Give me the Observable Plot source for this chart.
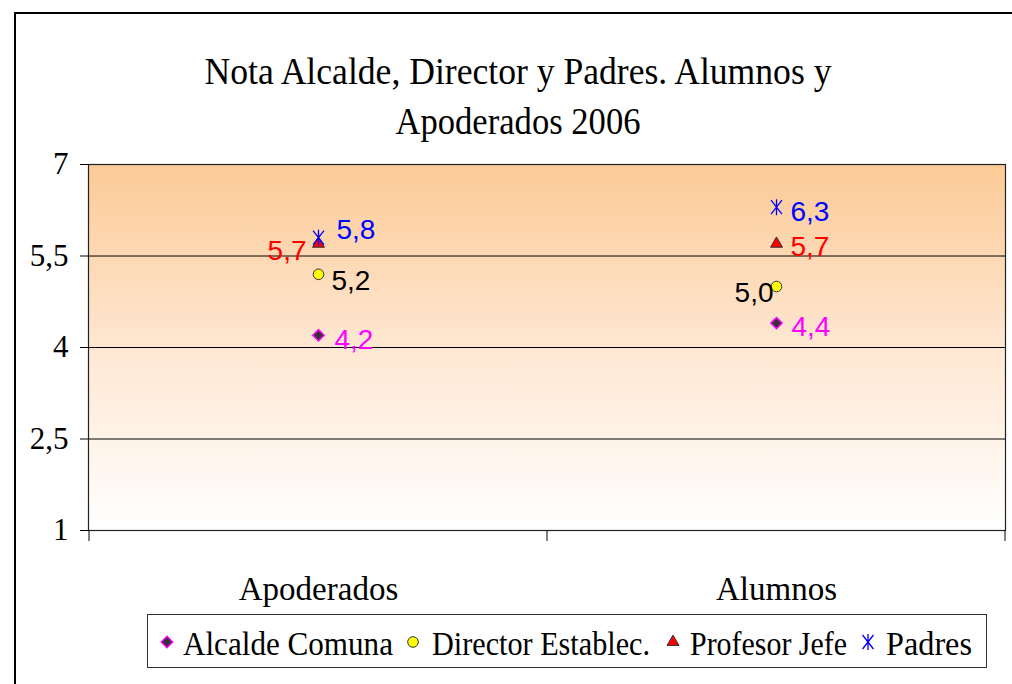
<!DOCTYPE html>
<html>
<head>
<meta charset="utf-8">
<script src="https://cdn.jsdelivr.net/npm/d3@7"></script>
<script src="https://cdn.jsdelivr.net/npm/@observablehq/plot@0.6"></script>
<style>
html, body { margin: 0; padding: 0; background: #fff; overflow: hidden; }
#wrap { position: relative; width: 1012px; height: 684px; overflow: hidden; background: #fff; }
#frame { position: absolute; left: 14px; top: 12px; width: 1100px; height: 800px; border: 2px solid #000; box-sizing: border-box; }
#chart { position: absolute; left: 0; top: 0; }
#overlay { position: absolute; left: 0; top: 0; pointer-events: none; }
</style>
</head>
<body>
<div id="wrap">
  <div id="frame"></div>
  <div id="chart"></div>
  <svg id="overlay" width="1012" height="684"></svg>
</div>
<script>
// ---- data ----
const titleLines = ["Nota Alcalde, Director y Padres. Alumnos y", "Apoderados 2006"];
const categories = ["Apoderados", "Alumnos"];
const seriesNames = ["Alcalde Comuna", "Director Establec.", "Profesor Jefe", "Padres"];
const alcaldeValues = [4.2, 4.4];
const directorValues = [5.2, 5.0];
const profesorValues = [5.7, 5.7];
const padresValues = [5.8, 6.3];
const yTicks = [1, 2.5, 4, 5.5, 7];

// ---- styling (not data) ----
const asteriskSymbol = {
  draw(ctx, size) {
    const r = Math.sqrt(size / Math.PI);
    ctx.moveTo(0, -r * 1.15); ctx.lineTo(0, r * 1.15);
    ctx.moveTo(-r * 0.78, -r); ctx.lineTo(r * 0.78, r);
    ctx.moveTo(r * 0.78, -r); ctx.lineTo(-r * 0.78, r);
  }
};
const seriesStyle = {
  "Alcalde Comuna": { symbol: d3.symbolDiamond2, fill: "#333333", stroke: "#FF00FF", strokeWidth: 1.5, r: 5.1, label: "#FF00FF" },
  "Director Establec.": { symbol: d3.symbolCircle, fill: "#FFFF00", stroke: "#333333", strokeWidth: 1, r: 5.3, label: "#000000" },
  "Profesor Jefe": { symbol: d3.symbolTriangle2, fill: "#FF0000", stroke: "#333333", strokeWidth: 1, r: 5.7, label: "#FF0000" },
  "Padres": { symbol: asteriskSymbol, fill: "none", stroke: "#0000FF", strokeWidth: 1.3, r: 7, label: "#0000FF" }
};
// label placement per series, per category (same order as categories)
const labelPlacement = {
  "Alcalde Comuna": [{ dx: 16, dy: 5, anchor: "start" }, { dx: 15, dy: 4, anchor: "start" }],
  "Director Establec.": [{ dx: 13, dy: 7, anchor: "start" }, { dx: -3, dy: 7, anchor: "end" }],
  "Profesor Jefe": [{ dx: -12, dy: 7, anchor: "end" }, { dx: 14, dy: 3, anchor: "start" }],
  "Padres": [{ dx: 18, dy: -8, anchor: "start" }, { dx: 14, dy: 5, anchor: "start" }]
};

const seriesValues = [alcaldeValues, directorValues, profesorValues, padresValues];
const rows = seriesNames.flatMap((s, i) => categories.map((c, j) => ({ series: s, category: c, value: seriesValues[i][j], j })));
const fmt = v => v.toFixed(1).replace(".", ",");
const tickFmt = v => String(v).replace(".", ",");

const gradientDefs = () => {
  const defs = d3.create("svg:defs");
  const g = defs.append("linearGradient").attr("id", "bgGrad").attr("x1", 0).attr("y1", 0).attr("x2", 0).attr("y2", 1);
  g.append("stop").attr("offset", "0%").attr("stop-color", "#FCCA96");
  g.append("stop").attr("offset", "50%").attr("stop-color", "#FEE7D2");
  g.append("stop").attr("offset", "100%").attr("stop-color", "#FFFFFF");
  return defs.node();
};

const xBoundaryTicks = (index, scales, values, dims) => {
  const x = scales.x;
  const bw = x.bandwidth ? x.bandwidth() : (dims.width - dims.marginLeft - dims.marginRight) / categories.length;
  const xs = categories.map(c => x(c));
  xs.push(x(categories[categories.length - 1]) + bw);
  const y0 = dims.height - dims.marginBottom;
  const g = d3.create("svg:g");
  xs.forEach(v => g.append("line").attr("x1", v).attr("x2", v).attr("y1", y0).attr("y2", y0 + 11).attr("stroke", "#000"));
  return g.node();
};

const marks = [
  gradientDefs,
  Plot.frame({ fill: "url(#bgGrad)", stroke: null }),
  Plot.ruleY(yTicks.slice(1, -1), { stroke: "#000", strokeWidth: 1 }),
  Plot.frame({ stroke: "#222", strokeWidth: 1.2 }),
  Plot.axisY({ ticks: yTicks, tickFormat: tickFmt, tickSize: 8, tickPadding: 12, fontSize: 31, fontFamily: "Liberation Serif", stroke: "#000", fill: "#000", label: null }),
  Plot.axisX({ tickSize: 0, tickPadding: 46, fontSize: 33, fontFamily: "Liberation Serif", fill: "#000", label: null }),
  xBoundaryTicks
];
for (const s of seriesNames) {
  const st = seriesStyle[s];
  marks.push(Plot.dot(rows.filter(d => d.series === s), {
    x: "category", y: "value", symbol: st.symbol, r: st.r, fill: st.fill, stroke: st.stroke, strokeWidth: st.strokeWidth
  }));
}
for (const r of rows) {
  const p = labelPlacement[r.series][r.j];
  marks.push(Plot.text([r], {
    x: "category", y: "value", text: d => fmt(d.value), dx: p.dx, dy: p.dy, textAnchor: p.anchor,
    fill: seriesStyle[r.series].label, fontSize: 28, fontFamily: "Liberation Sans"
  }));
}

const chart = Plot.plot({
  width: 1012, height: 610,
  marginTop: 164, marginBottom: 80, marginLeft: 88, marginRight: 7,
  style: { background: "transparent", overflow: "visible" },
  x: { type: "band", domain: categories, padding: 0 },
  y: { domain: [1, 7] },
  marks
});
document.getElementById("chart").appendChild(chart);

// ---- title and legend (overlay) ----
const ov = d3.select("#overlay");
const titleLayout = [{ y: 84, len: 627 }, { y: 134, len: 245 }];
titleLines.forEach((t, i) => {
  ov.append("text").attr("x", 518).attr("y", titleLayout[i].y).attr("text-anchor", "middle")
    .attr("font-family", "Liberation Serif").attr("font-size", 38)
    .attr("textLength", titleLayout[i].len).attr("lengthAdjust", "spacingAndGlyphs")
    .attr("fill", "#000").text(t);
});
ov.append("rect").attr("x", 147.5).attr("y", 614.5).attr("width", 839).attr("height", 53)
  .attr("fill", "#fff").attr("stroke", "#333").attr("stroke-width", 1);
const legendLayout = [
  { mx: 167, tx: 183, len: 210 },
  { mx: 413, tx: 432, len: 218 },
  { mx: 673, tx: 690, len: 157 },
  { mx: 868, tx: 886, len: 86 }
];
seriesNames.forEach((s, i) => {
  const st = seriesStyle[s];
  const L = legendLayout[i];
  ov.append("path").attr("transform", `translate(${L.mx},642)`)
    .attr("d", d3.symbol(st.symbol, Math.PI * st.r * st.r)())
    .attr("fill", st.fill).attr("stroke", st.stroke).attr("stroke-width", st.strokeWidth);
  ov.append("text").attr("x", L.tx).attr("y", 655)
    .attr("font-family", "Liberation Serif").attr("font-size", 34)
    .attr("textLength", L.len).attr("lengthAdjust", "spacingAndGlyphs")
    .attr("fill", "#000").text(s);
});
</script>
</body>
</html>
